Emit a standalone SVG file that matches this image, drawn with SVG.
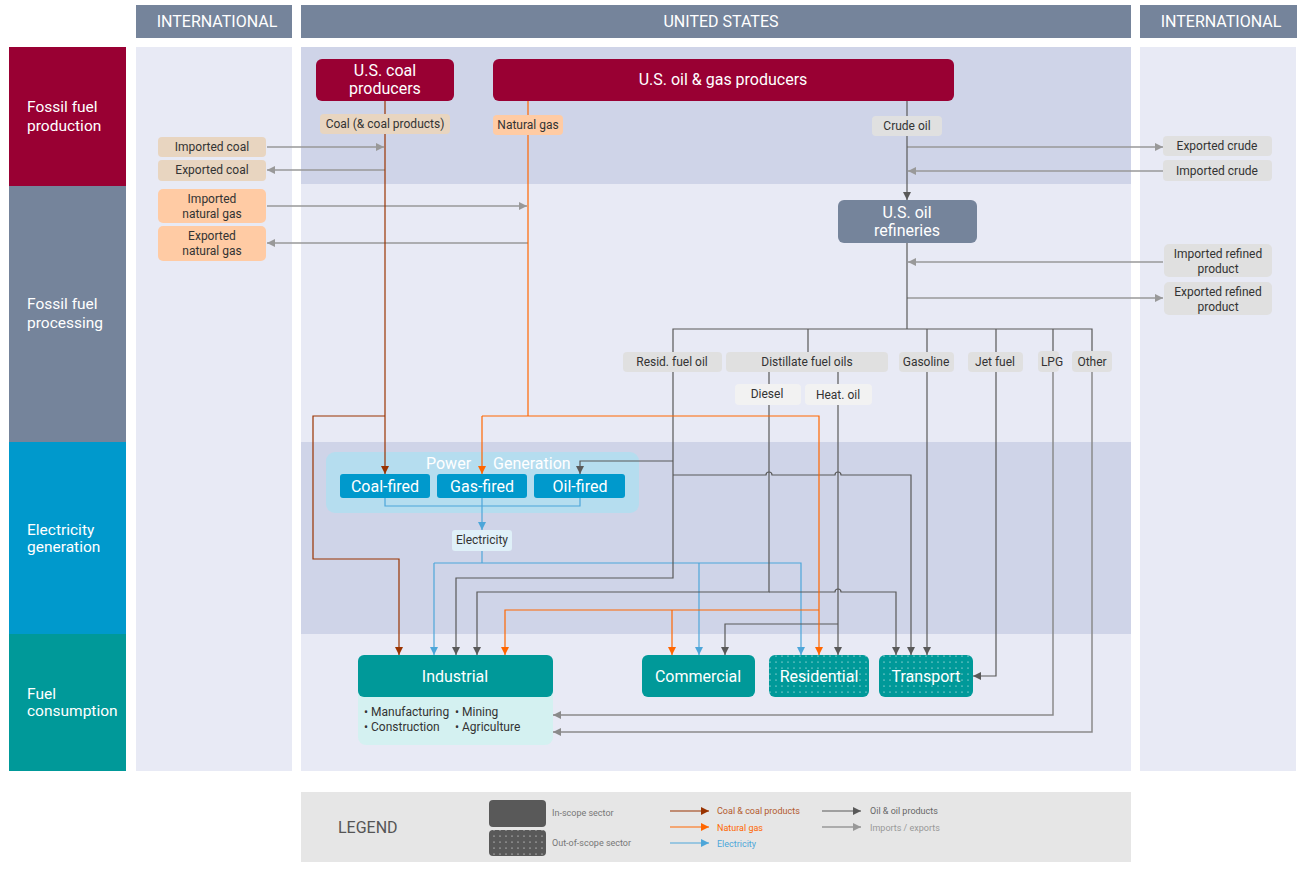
<svg xmlns="http://www.w3.org/2000/svg" width="1303" height="871" viewBox="0 0 1303 871">
<style>
text{font-family:Roboto,"Liberation Sans",sans-serif}
.hdr{fill:#75849b}
.hdrt{fill:#fff;font-size:16px;text-anchor:middle}
.col{fill:#e8eaf5}
.band{fill:#cfd4e8}
.rowt{fill:#fff;font-size:15.5px}
.nt{fill:#fff;font-size:16px;text-anchor:middle}
.lt{fill:#333;font-size:12px;text-anchor:middle}
.coalL{fill:#e8d5c0}
.gasL{fill:#ffcba4}
.oilL{fill:#e0e0e0}
.oilL2{fill:#f2f2f2}
.c{fill:none;stroke-width:1.2}
.coal{stroke:#993300;marker-end:url(#aCoal)}
.gas{stroke:#ff6600;marker-end:url(#aGas)}
.el{stroke:#4da6d9;marker-end:url(#aEl)}
.oil{stroke:#595959;marker-end:url(#aOil)}
.ie{stroke:#999;stroke-width:1.5;marker-end:url(#aIE)}
.lpg{stroke:#8a8a8a;stroke-width:1.5;marker-end:url(#aLpg)}
.nm{marker-end:none}
.leg{font-size:9px}
</style>
<defs>
<marker id="aCoal" viewBox="0 0 8 8" markerWidth="8" markerHeight="8" refX="8" refY="4" orient="auto" markerUnits="userSpaceOnUse"><path d="M0,0L8,4L0,8z" fill="#993300"/></marker>
<marker id="aGas" viewBox="0 0 8 8" markerWidth="8" markerHeight="8" refX="8" refY="4" orient="auto" markerUnits="userSpaceOnUse"><path d="M0,0L8,4L0,8z" fill="#ff6600"/></marker>
<marker id="aEl" viewBox="0 0 8 8" markerWidth="8" markerHeight="8" refX="8" refY="4" orient="auto" markerUnits="userSpaceOnUse"><path d="M0,0L8,4L0,8z" fill="#4da6d9"/></marker>
<marker id="aOil" viewBox="0 0 8 8" markerWidth="8" markerHeight="8" refX="8" refY="4" orient="auto" markerUnits="userSpaceOnUse"><path d="M0,0L8,4L0,8z" fill="#595959"/></marker>
<marker id="aIE" viewBox="0 0 8 8" markerWidth="8" markerHeight="8" refX="8" refY="4" orient="auto" markerUnits="userSpaceOnUse"><path d="M0,0L8,4L0,8z" fill="#999"/></marker>
<marker id="aLpg" viewBox="0 0 8 8" markerWidth="8" markerHeight="8" refX="8" refY="4" orient="auto" markerUnits="userSpaceOnUse"><path d="M0,0L8,4L0,8z" fill="#8a8a8a"/></marker>
<pattern id="dots" width="6" height="6" patternUnits="userSpaceOnUse"><rect width="6" height="6" fill="#009999"/><circle cx="2" cy="2" r="0.6" fill="#fff"/></pattern>
<pattern id="dotsG" width="6" height="6" patternUnits="userSpaceOnUse"><rect width="6" height="6" fill="#595959"/><circle cx="2" cy="2" r="0.6" fill="#fff"/></pattern>
</defs>
<rect width="1303" height="871" fill="#fff"/>
<g id="headers">
<rect class="hdr" x="136" y="5" width="156" height="33"/>
<text class="hdrt" x="217" y="27">INTERNATIONAL</text>
<rect class="hdr" x="301" y="5" width="830" height="33"/>
<text class="hdrt" x="721" y="27">UNITED STATES</text>
<rect class="hdr" x="1140" y="5" width="157" height="33"/>
<text class="hdrt" x="1221" y="27">INTERNATIONAL</text>
</g>
<g id="columns">
<rect class="col" x="136" y="47" width="156" height="724"/>
<rect class="col" x="301" y="47" width="830" height="724"/>
<rect class="col" x="1140" y="47" width="156" height="724"/>
<rect class="band" x="301" y="47" width="830" height="137"/>
<rect class="band" x="301" y="442" width="830" height="192"/>
</g>
<g id="rows">
<rect x="9" y="47" width="117" height="139" fill="#990033"/>
<text class="rowt" x="27" y="112">Fossil fuel</text><text class="rowt" x="27" y="131">production</text>
<rect x="9" y="186" width="117" height="256" fill="#75849b"/>
<text class="rowt" x="27" y="309">Fossil fuel</text><text class="rowt" x="27" y="328">processing</text>
<rect x="9" y="442" width="117" height="192" fill="#0099cc"/>
<text class="rowt" x="27" y="535">Electricity</text><text class="rowt" x="27" y="552">generation</text>
<rect x="9" y="634" width="117" height="137" fill="#009999"/>
<text class="rowt" x="27" y="699">Fuel</text><text class="rowt" x="27" y="716">consumption</text>
</g>
<g id="power-generation">
<rect x="326" y="452" width="313" height="61" rx="9" fill="#b5ddef"/>
<text fill="#fff" font-size="16" y="469"><tspan x="426">Power</tspan><tspan x="493">Generation</tspan></text>
</g>
<g id="connectors">
<path class="c ie" d="M267,147H384"/>
<path class="c ie" d="M385,170H267"/>
<path class="c ie" d="M267,206H527"/>
<path class="c ie" d="M528,243H267"/>
<path class="c ie" d="M907,147H1163"/>
<path class="c ie" d="M1163,171H908"/>
<path class="c ie" d="M1163,262H908"/>
<path class="c ie" d="M907,298H1163"/>
<path class="c el nm" d="M385,498V506H580V498"/>
<path class="c el" d="M482,498V530"/>
<path class="c el nm" d="M482,551V563"/>
<path class="c el" d="M434,563V655"/>
<path class="c el" d="M434,563H801V655"/>
<path class="c el" d="M699,563V655"/>
<path class="c oil" d="M907,101V200"/>
<path class="c oil nm" d="M907,243V329"/>
<path class="c oil nm" d="M673,352V329H1092V352M808,329V352M927,329V352M996,329V352M1053,329V352"/>
<path class="c oil nm" d="M769,372V384M838,372V384"/>
<path class="c oil" d="M673,372V578H456V655"/>
<path class="c oil" d="M673,461H580V474"/>
<path class="c oil" d="M673,475H766a3,3 0 0 1 6,0H835a3,3 0 0 1 6,0H911V655"/>
<path class="c oil" d="M769,405V592H477V655"/>
<path class="c oil" d="M769,592H835a3,3 0 0 1 6,0H896V655"/>
<path class="c oil" d="M838,405V655"/>
<path class="c oil" d="M838,624H725V655"/>
<path class="c oil" d="M927,372V655"/>
<path class="c oil" d="M996,372V676H973"/>
<path class="c lpg" d="M1053,372V715H553"/>
<path class="c lpg" d="M1092,372V732H553"/>
<path class="c gas nm" d="M528,101V416"/>
<path class="c gas" d="M482,416H819V655"/>
<path class="c gas" d="M482,416V474"/>
<path class="c gas" d="M819,610H505V655"/>
<path class="c gas" d="M672,610V655"/>
<path class="c coal" d="M385,101V474"/>
<path class="c coal" d="M385,416H313V559H399V655"/>
</g>
<g id="coal-producers">
<rect x="316" y="59" width="138" height="42" rx="6" fill="#990033"/>
<text class="nt" x="385" y="76">U.S. coal</text><text class="nt" x="385" y="94">producers</text>
</g>
<g id="oil-gas-producers">
<rect x="493" y="59" width="461" height="42" rx="6" fill="#990033"/>
<text class="nt" x="723" y="85">U.S. oil &amp; gas producers</text>
</g>
<g id="lbl-coal"><rect class="coalL" x="320" y="114" width="130" height="20" rx="4"/><text class="lt" x="385" y="128">Coal (&amp; coal products)</text></g>
<g id="lbl-natgas"><rect class="gasL" x="493" y="115" width="70" height="20" rx="4"/><text class="lt" x="528" y="129">Natural gas</text></g>
<g id="lbl-crude"><rect class="oilL" x="872" y="116" width="70" height="20" rx="4"/><text class="lt" x="907" y="130">Crude oil</text></g>
<g id="imported-coal"><rect class="coalL" x="158" y="137" width="108" height="20" rx="4"/><text class="lt" x="212" y="151">Imported coal</text></g>
<g id="exported-coal"><rect class="coalL" x="158" y="160" width="108" height="21" rx="4"/><text class="lt" x="212" y="174">Exported coal</text></g>
<g id="imported-gas"><rect class="gasL" x="158" y="189" width="108" height="34" rx="5"/><text class="lt" x="212" y="203">Imported</text><text class="lt" x="212" y="218">natural gas</text></g>
<g id="exported-gas"><rect class="gasL" x="158" y="226" width="108" height="35" rx="5"/><text class="lt" x="212" y="240">Exported</text><text class="lt" x="212" y="255">natural gas</text></g>
<g id="exported-crude"><rect class="oilL" x="1163" y="136" width="109" height="20" rx="4"/><text class="lt" x="1217" y="150">Exported crude</text></g>
<g id="imported-crude"><rect class="oilL" x="1163" y="160" width="109" height="21" rx="4"/><text class="lt" x="1217" y="175">Imported crude</text></g>
<g id="imported-refined"><rect class="oilL" x="1164" y="244" width="108" height="33" rx="5"/><text class="lt" x="1218" y="258">Imported refined</text><text class="lt" x="1218" y="273">product</text></g>
<g id="exported-refined"><rect class="oilL" x="1164" y="282" width="108" height="33" rx="5"/><text class="lt" x="1218" y="296">Exported refined</text><text class="lt" x="1218" y="311">product</text></g>
<g id="refineries">
<rect x="838" y="200" width="139" height="43" rx="6" fill="#75849b"/>
<text class="nt" x="907" y="218">U.S. oil</text><text class="nt" x="907" y="236">refineries</text>
</g>
<g id="lbl-resid"><rect class="oilL" x="623" y="352" width="99" height="20" rx="4"/><text class="lt" x="672" y="366">Resid.  fuel oil</text></g>
<g id="lbl-distillate"><rect class="oilL" x="726" y="352" width="162" height="20" rx="4"/><text class="lt" x="807" y="366">Distillate fuel oils</text></g>
<g id="lbl-gasoline"><rect class="oilL" x="899" y="352" width="55" height="20" rx="4"/><text class="lt" x="926" y="366">Gasoline</text></g>
<g id="lbl-jet"><rect class="oilL" x="968" y="352" width="55" height="20" rx="4"/><text class="lt" x="995" y="366">Jet fuel</text></g>
<g id="lbl-lpg"><rect class="oilL" x="1038" y="351" width="21" height="21" rx="4"/><text class="lt" x="1052" y="366">LPG</text></g>
<g id="lbl-other"><rect class="oilL" x="1072" y="351" width="40" height="21" rx="4"/><text class="lt" x="1092" y="366">Other</text></g>
<g id="lbl-diesel"><rect class="oilL2" x="735" y="384" width="66" height="21" rx="4"/><text class="lt" x="767" y="398">Diesel</text></g>
<g id="lbl-heatoil"><rect class="oilL2" x="805" y="384" width="67" height="21" rx="4"/><text class="lt" x="838" y="399">Heat. oil</text></g>
<g id="coal-fired"><rect x="340" y="474" width="90" height="24" rx="3" fill="#0099cc"/><text class="nt" x="385" y="492">Coal-fired</text></g>
<g id="gas-fired"><rect x="437" y="474" width="90" height="24" rx="3" fill="#0099cc"/><text class="nt" x="482" y="492">Gas-fired</text></g>
<g id="oil-fired"><rect x="534" y="474" width="91" height="24" rx="3" fill="#0099cc"/><text class="nt" x="580" y="492">Oil-fired</text></g>
<g id="electricity"><rect x="452" y="530" width="60" height="21" rx="3" fill="#dff0f8"/><text class="lt" x="482" y="544">Electricity</text></g>
<g id="industrial">
<rect x="358" y="685" width="195" height="60" rx="8" fill="#d4f1f1"/>
<rect x="358" y="655" width="195" height="42" rx="6" fill="#009999"/>
<text class="nt" x="455" y="682">Industrial</text>
<text fill="#333" font-size="12" y="716"><tspan x="364">• Manufacturing</tspan><tspan x="455">• Mining</tspan></text>
<text fill="#333" font-size="12" y="731"><tspan x="364">• Construction</tspan><tspan x="455">• Agriculture</tspan></text>
</g>
<g id="commercial"><rect x="642" y="655" width="113" height="42" rx="6" fill="#009999"/><text class="nt" x="698" y="682">Commercial</text></g>
<g id="residential"><rect x="769" y="655" width="100" height="42" rx="6" fill="url(#dots)"/><text class="nt" x="819" y="682">Residential</text></g>
<g id="transport"><rect x="879" y="655" width="94" height="42" rx="6" fill="url(#dots)"/><text class="nt" x="926" y="682">Transport</text></g>
<g id="legend">
<rect x="301" y="792" width="830" height="70" fill="#e6e6e6"/>
<text x="338" y="833" font-size="16" fill="#555">LEGEND</text>
<rect x="489" y="800" width="57" height="27" rx="4" fill="#595959"/>
<rect x="489" y="830" width="57" height="26" rx="4" fill="url(#dotsG)"/>
<text class="leg" x="552" y="816" fill="#777">In-scope  sector</text>
<text class="leg" x="552" y="846" fill="#777">Out-of-scope  sector</text>
<path class="c coal" stroke-width="2" d="M670,811H709"/>
<text class="leg" x="717" y="814" fill="#b35a2d">Coal &amp; coal products</text>
<path class="c gas" stroke-width="2" d="M670,827H709"/>
<text class="leg" x="717" y="831" fill="#ff6600">Natural gas</text>
<path class="c el" stroke-width="2" d="M670,843H709"/>
<text class="leg" x="717" y="847" fill="#4da6d9">Electricity</text>
<path class="c oil" stroke-width="2" d="M822,811H861"/>
<text class="leg" x="870" y="814" fill="#666">Oil &amp; oil products</text>
<path class="c ie" stroke-width="2" d="M822,827H861"/>
<text class="leg" x="870" y="831" fill="#999">Imports / exports</text>
</g>
</svg>
